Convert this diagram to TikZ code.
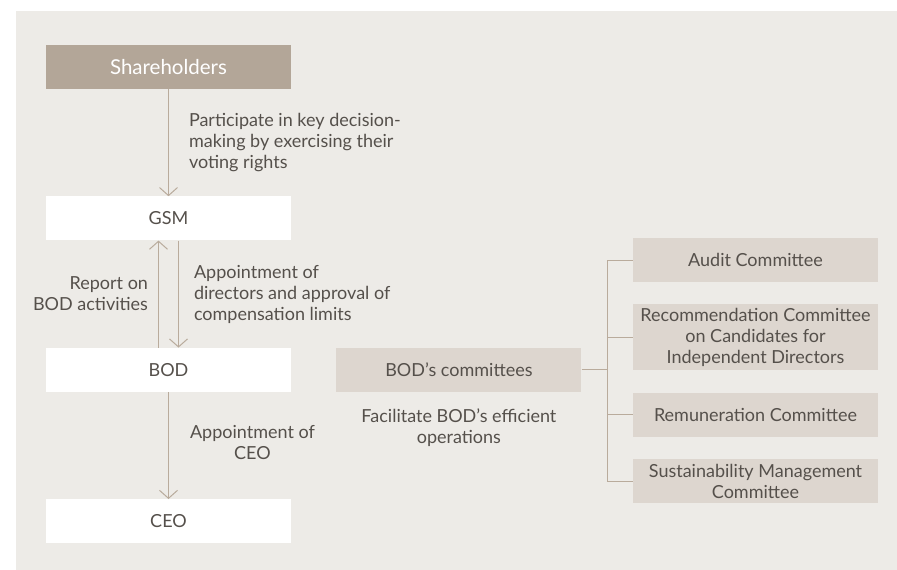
\documentclass[tikz,border=0pt]{standalone}
\usepackage{fontspec}
\setmainfont{Lato}
\usetikzlibrary{positioning,arrows.meta,calc}
\definecolor{panelgray}{RGB}{237,235,231}
\definecolor{holdbrown}{RGB}{179,166,152}
\definecolor{combeige}{RGB}{221,214,207}
\definecolor{linktan}{RGB}{185,171,156}
\definecolor{txtgray}{RGB}{85,80,75}
\tikzset{
  orgbox/.style = {fill=white, text=txtgray, minimum width=245pt, minimum height=44pt, inner sep=0pt, font=\fontsize{18}{21}\selectfont},
  topbox/.style = {orgbox, fill=holdbrown, text=white, font=\fontsize{20.5}{21}\selectfont},
  combox/.style = {orgbox, fill=combeige, align=center},
  lbl/.style    = {text=txtgray, inner sep=0pt, font=\fontsize{18}{21}\selectfont},
  flow/.style   = {-{Straight Barb[length=8pt,width=18pt]}, line width=1pt, draw=linktan},
  tree/.style   = {line width=1pt, draw=linktan},
}

\begin{document}
\begin{tikzpicture}[x=1pt, y=-1pt, node distance=107pt]
  \fill[white] (0,0) rectangle (897,570);
  \fill[panelgray] (16,11) rectangle (897,570);
  \useasboundingbox (0,0) rectangle (897,570);
  % main chain
  \node[topbox] (holders) at (168.5,67) {Shareholders};
  \node[orgbox, below=of holders] (gsm) {GSM};
  \node[orgbox, below=of gsm] (bod) {BOD};
  \node[orgbox, below=of bod] (ceo) {CEO};
  \draw[flow] (holders) -- node[lbl, right, xshift=20pt, align=left] (vote) {Participate in key decision-\\making by exercising their\\voting rights} (gsm);
  \draw[flow] ([xshift=-10pt]bod.north) -- node[lbl, left, xshift=-10pt, align=right] (report) {Report on\\BOD activities} ([xshift=-10pt]gsm.south);
  \draw[flow] ([xshift=10pt]gsm.south) -- node[lbl, right, xshift=15pt, align=left] (appdir) {Appointment of\\directors and approval of\\compensation limits} ([xshift=10pt]bod.north);
  \draw[flow] (bod) -- node[lbl, right, xshift=21pt, yshift=3pt, align=center] (appceo) {Appointment of\\CEO} (ceo);
  % committees
  \node[combox, right=45pt of bod] (bodc) {BOD’s committees};
  \node[lbl, align=center, below=17pt of bodc] (bodcnote) {Facilitate BOD’s efficient\\operations};
  \node[combox] (audit) at (755.5,260) {Audit Committee};
  \node[combox, minimum height=66pt, below=22pt of audit] (recom) {Recommendation Committee\\on Candidates for\\Independent Directors};
  \node[combox, below=22pt of recom] (remun) {Remuneration Committee};
  \node[combox, below=22pt of remun] (sustain) {Sustainability Management\\Committee};
  \coordinate (fork) at ($(bodc.east)!0.5!(bodc.east -| audit.west)$);
  \draw[tree] (bodc.east) -- (fork);
  \draw[tree] (fork |- audit.west) -- (fork |- sustain.west);
  \foreach \c in {audit,recom,remun,sustain}
    \draw[tree] (fork |- \c.west) -- (\c.west);
\end{tikzpicture}
\end{document}
